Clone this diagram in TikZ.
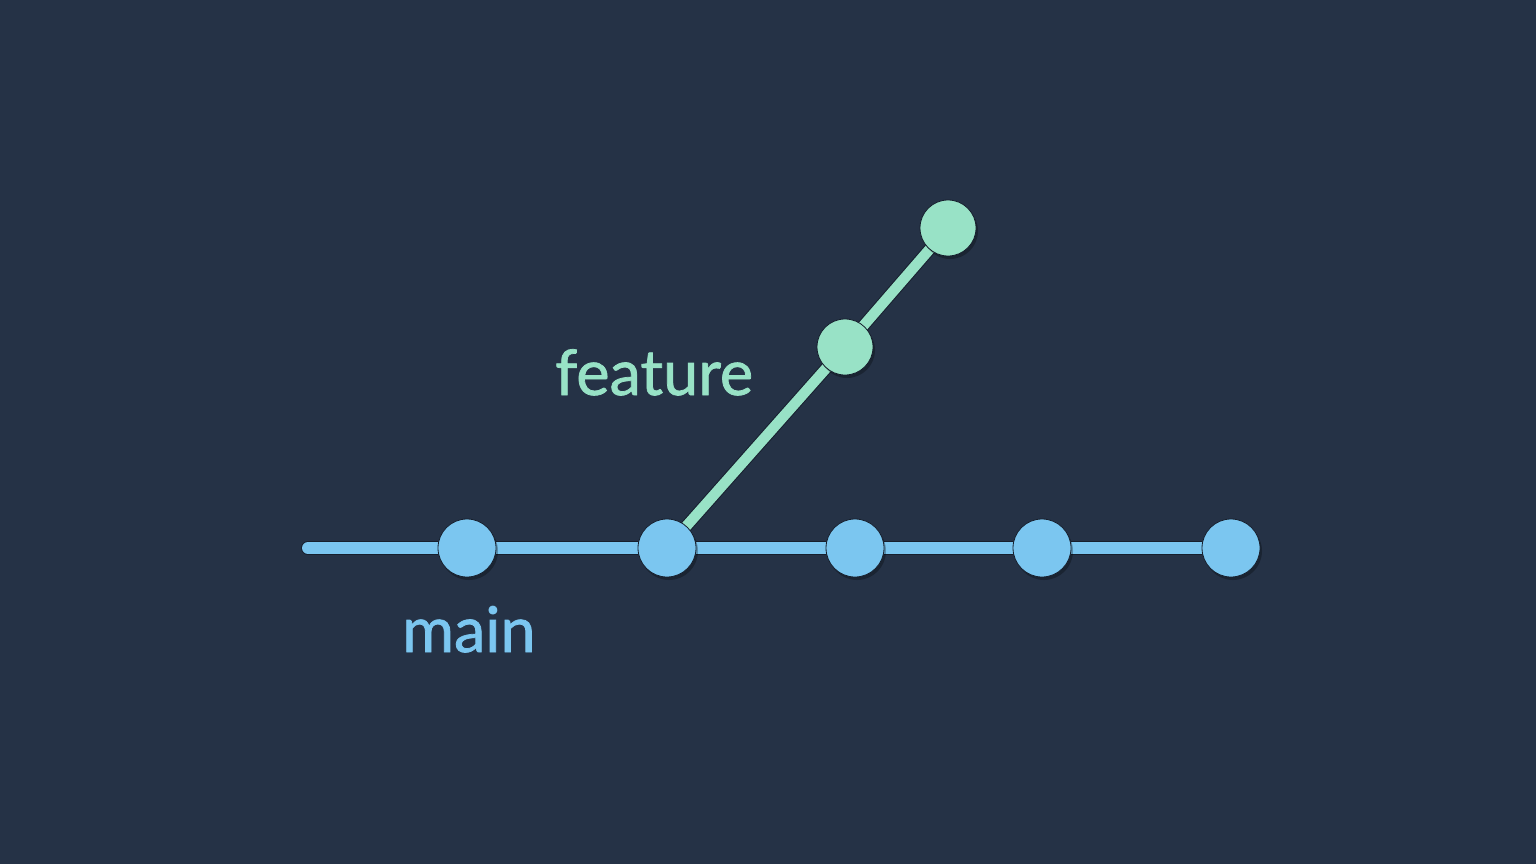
\documentclass[tikz,border=0pt]{standalone}
\usepackage{fontspec}
\setmainfont{Lato}
\newfontfamily\lblfont[FakeBold=1.2]{Lato}
\pgfdeclarelayer{bg}
\pgfdeclarelayer{edges}
\pgfsetlayers{bg,edges,main}
\definecolor{bgc}{HTML}{253246}
\definecolor{bluec}{HTML}{7BC6F0}
\definecolor{greenc}{HTML}{98E2C6}
\definecolor{edgec}{HTML}{17202E}
\tikzset{
  commit/.style={circle, minimum size=58pt, inner sep=0pt, fill=#1, draw=edgec, line width=0.8pt,
    preaction={fill=black, opacity=0.28, transform canvas={xshift=2pt, yshift=-3pt}}},
  mainline/.style={line width=12pt, bluec, line cap=round,
    preaction={draw=edgec, line width=14pt, line cap=round}},
  featline/.style={line width=10.5pt, greenc,
    preaction={draw=edgec, line width=12.5pt}},
  lbl/.style={font=\lblfont\fontsize{63}{63}\selectfont, inner sep=0pt, anchor=base west}
}
\begin{document}
\begin{tikzpicture}[x=1pt,y=-1pt]
\begin{pgfonlayer}{bg}
\fill[bgc] (0,0) rectangle (1536,864);
\end{pgfonlayer}
\useasboundingbox (0,0) rectangle (1536,864);
\coordinate (start) at (308,548);
\node[commit=bluec] (m1) at (467,548) {};
\node[commit=bluec] (m2) at (667,548) {};
\node[commit=bluec] (m3) at (855,548) {};
\node[commit=bluec] (m4) at (1042,548) {};
\node[commit=bluec] (m5) at (1231,548) {};
\node[commit=greenc, minimum size=56pt] (f1) at (845,347) {};
\node[commit=greenc, minimum size=56pt] (f2) at (948,228) {};
\begin{pgfonlayer}{edges}
\draw[featline] (m2.center) -- (f1.center) -- (f2.center);
\draw[mainline] (start) -- (m5.center);
\end{pgfonlayer}
\node[lbl, text=greenc] (feat) at (555,395) {feature};
\node[lbl, text=bluec] (mainlbl) at (402,652) {main};
\end{tikzpicture}
\end{document}
